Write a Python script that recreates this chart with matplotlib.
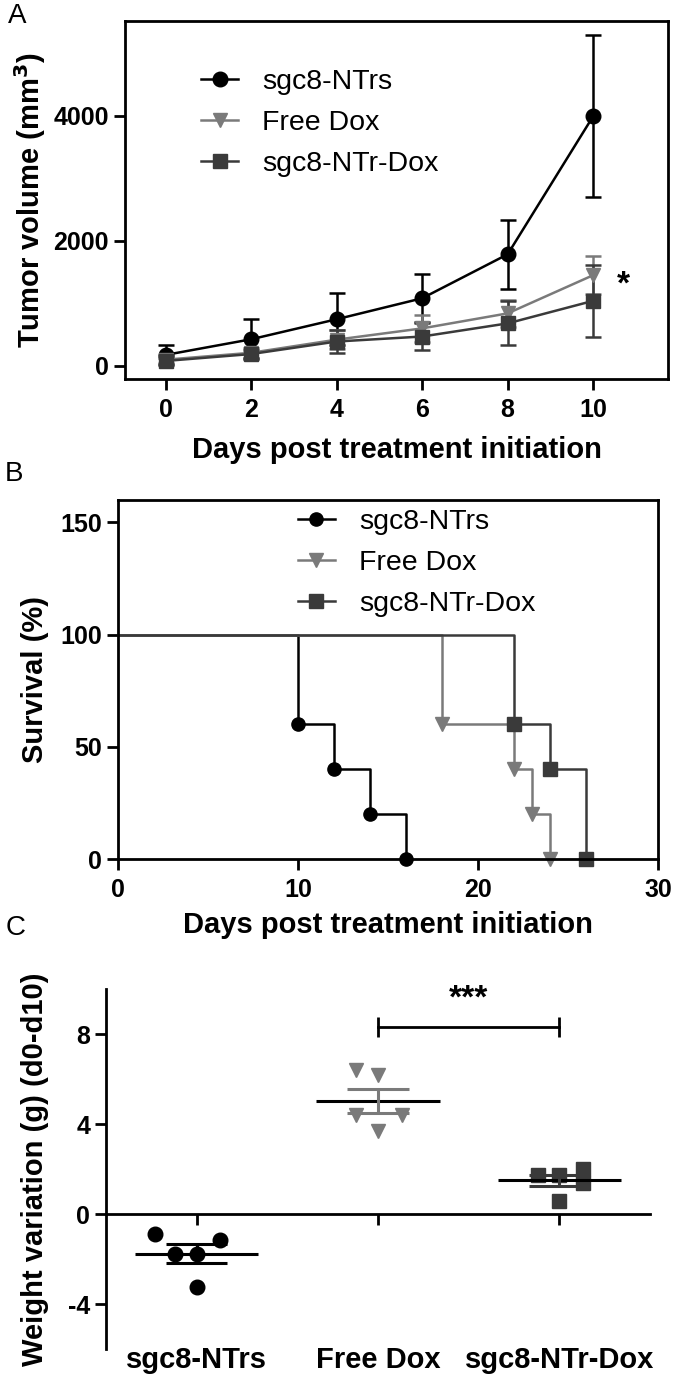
import matplotlib
matplotlib.use('Agg')
import matplotlib.pyplot as plt
from matplotlib.lines import Line2D
import numpy as np

plt.rcParams['font.family'] = ['Liberation Sans', 'DejaVu Sans']
plt.rcParams['axes.unicode_minus'] = False

# ---- data ----
groups = ['sgc8-NTrs', 'Free Dox', 'sgc8-NTr-Dox']
colors = ['#000000', '#7a7a7a', '#3a3a3a']
markers = ['o', 'v', 's']

# A: tumor volume
days = [0, 2, 4, 6, 8, 10]
vol_ntrs = [176, 426, 746, 1081, 1784, 3990]
err_ntrs = [160, 320, 415, 385, 550, 1290]
vol_dox = [100, 210, 420, 600, 840, 1450]
err_dox = [60, 80, 150, 210, 210, 300]
vol_ntrdox = [80, 190, 390, 470, 680, 1040]
err_ntrdox = [50, 70, 180, 220, 350, 580]

# B: survival
surv_x_ntrs = [0, 10, 12, 14, 16]
surv_y_ntrs = [100, 60, 40, 20, 0]
surv_x_dox = [0, 18, 22, 23, 24]
surv_y_dox = [100, 60, 40, 20, 0]
surv_x_ntrdox = [0, 22, 24, 26]
surv_y_ntrdox = [100, 60, 40, 0]

# C: weight variation
w_ntrs = [-0.88, -1.14, -1.76, -1.76, -3.25]
w_dox = [6.4, 6.2, 4.4, 4.4, 3.7]
w_ntrdox = [1.75, 1.75, 2.0, 1.4, 0.6]

fig = plt.figure(figsize=(6.75, 13.76), dpi=100)

tick_kw = dict(direction='out', length=8, width=2, labelsize=18)
lab_font = dict(fontsize=21, fontweight='bold')
leg_kw = dict(loc='upper left', frameon=False, fontsize=20.5, handlelength=1.3,
              handletextpad=0.85, labelspacing=0.52, borderpad=0, borderaxespad=0)

def style_ticks(ax):
    ax.tick_params(**tick_kw)
    for lab in ax.get_xticklabels() + ax.get_yticklabels():
        lab.set_fontweight('bold')

def legend_handles(ms):
    return [Line2D([], [], color=c, marker=m, ms=ms, lw=1.8)
            for c, m in zip(colors, markers)]

# ---------- A ----------
axA = fig.add_axes([0.1852, 0.7246, 0.8044, 0.2602])
for vals, errs, c, m in zip([vol_ntrs, vol_dox, vol_ntrdox],
                            [err_ntrs, err_dox, err_ntrdox], colors, markers):
    axA.errorbar(days, vals, yerr=errs, color=c, marker=m, ms=10.5,
                 lw=1.8, elinewidth=1.8, capsize=6, capthick=1.8)
axA.set_xlim(-0.95, 11.75)
axA.set_ylim(-208, 5513)
axA.set_xticks(days)
axA.set_yticks([0, 2000, 4000])
style_ticks(axA)
axA.tick_params(axis='x', pad=6)
for s in axA.spines.values():
    s.set_linewidth(2)
axA.set_xlabel('Days post treatment initiation', **lab_font)
axA.xaxis.set_label_coords(0.5, -0.198)
axA.xaxis.label.set_va('center')
axA.set_ylabel('Tumor volume (mm$^\\mathbf{3}$)', **lab_font)
axA.yaxis.set_label_coords(-0.175, 0.5)
axA.yaxis.label.set_va('center')
axA.text(10.7, 1294, '*', fontsize=24, fontweight='bold', ha='center', va='center')
axA.legend(legend_handles(10.5), groups, bbox_to_anchor=(0.14, 0.865), **leg_kw)
fig.text(17 / 675, 1 - 16 / 1376, 'A', fontsize=20, ha='center', va='center')

# ---------- B ----------
axB = fig.add_axes([0.1748, 0.3757, 0.8, 0.2609])
for xs, ys, c, m in zip([surv_x_ntrs, surv_x_dox, surv_x_ntrdox],
                        [surv_y_ntrs, surv_y_dox, surv_y_ntrdox], colors, markers):
    axB.plot(xs, ys, drawstyle='steps-post', color=c, lw=1.8, clip_on=False)
    axB.plot(xs[1:], ys[1:], ls='none', marker=m, ms=9.5, color=c, clip_on=False)
axB.set_xlim(0, 30)
axB.set_ylim(0, 160)
axB.set_xticks([0, 10, 20, 30])
axB.set_yticks([0, 50, 100, 150])
style_ticks(axB)
axB.tick_params(axis='x', pad=6)
for s in axB.spines.values():
    s.set_linewidth(2)
axB.set_xlabel('Days post treatment initiation', **lab_font)
axB.xaxis.set_label_coords(0.5, -0.184)
axB.xaxis.label.set_va('center')
axB.set_ylabel('Survival (%)', **lab_font)
axB.yaxis.set_label_coords(-0.154, 0.5)
axB.yaxis.label.set_va('center')
axB.legend(legend_handles(9.5), groups, bbox_to_anchor=(0.333, 0.975), **leg_kw)
fig.text(14 / 675, 1 - 474 / 1376, 'B', fontsize=20, ha='center', va='center')

# ---------- C ----------
axC = fig.add_axes([0.157, 0.0196, 0.806, 0.2616])
jitter = [[-0.23, 0.13, -0.12, 0.0, 0.0],
          [-0.12, 0.0, -0.12, 0.13, 0.0],
          [-0.12, 0.0, 0.13, 0.13, 0.0]]
for i, (vals, c, m) in enumerate(zip([w_ntrs, w_dox, w_ntrdox], colors, markers)):
    vals = np.array(vals)
    xs = i + np.array(jitter[i])
    axC.plot(xs, vals, ls='none', marker=m, ms=10.5, color=c, zorder=2)
    mean = vals.mean()
    sem = vals.std(ddof=1) / np.sqrt(len(vals))
    axC.hlines(mean, i - 0.34, i + 0.34, color='black', lw=2.2, zorder=3)
    axC.hlines([mean - sem, mean + sem], i - 0.17, i + 0.17, color=c, lw=2.2, zorder=3)
    axC.vlines(i, mean - sem, mean + sem, color=c, lw=2.2, zorder=3)
axC.set_xlim(-0.5, 2.5)
axC.set_ylim(-6, 10)
axC.set_yticks([-4, 0, 4, 8])
axC.set_xticks([0, 1, 2])
axC.set_xticklabels([])
style_ticks(axC)
axC.spines['top'].set_visible(False)
axC.spines['right'].set_visible(False)
axC.spines['bottom'].set_position(('data', 0))
for s in axC.spines.values():
    s.set_linewidth(2)
for i, g in enumerate(groups):
    axC.text(i, -0.053, g, transform=axC.get_xaxis_transform(), ha='center',
             va='baseline', **lab_font)
axC.set_ylabel('Weight variation (g) (d0-d10)', **lab_font)
axC.yaxis.set_label_coords(-0.13, 0.5)
axC.yaxis.label.set_va('center')
# significance bracket between Free Dox and sgc8-NTr-Dox
bh = 8.3
axC.plot([1, 2], [bh, bh], color='black', lw=2)
axC.vlines([1, 2], bh - 0.45, bh + 0.45, color='black', lw=2)
axC.text(1.5, bh + 0.55, '***', fontsize=24, fontweight='bold', ha='center', va='bottom')
fig.text(16 / 675, 1 - 928 / 1376, 'C', fontsize=20, ha='center', va='center')

fig.savefig('out.png', dpi=100)
